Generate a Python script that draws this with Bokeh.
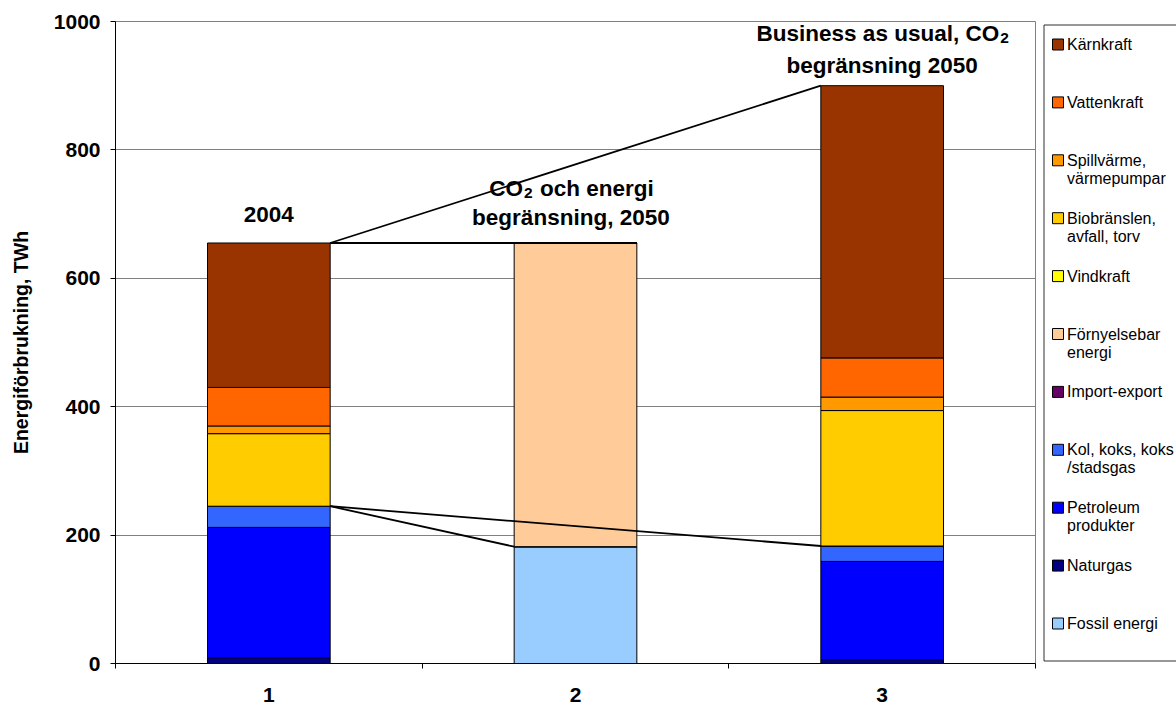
from bokeh.plotting import figure
from bokeh.layouts import row
from bokeh.models import Range1d, FixedTicker, ColumnDataSource
from bokeh.core.properties import value
from bokeh.embed import file_html
from bokeh.resources import INLINE
import numpy as np

FONT = "Liberation Sans"

# ---------------- data ----------------
categories = [1, 2, 3]
category_labels = ["1", "2", "3"]
fossil_energi = [0, 182, 0]
naturgas = [9, 0, 6]
petroleum = [203, 0, 153]
kol = [33, 0, 24]
import_export = [0, 0, 0]
fornyelsebar = [0, 473, 0]
vindkraft = [0, 0, 0]
biobranslen = [113, 0, 211]
spillvarme = [12, 0, 21]
vattenkraft = [60, 0, 61]
karnkraft = [225, 0, 424]

stack_keys = ["fossil", "naturgas", "petroleum", "kol", "import", "fornyelsebar",
              "vind", "bio", "spill", "vatten", "karn"]
stack_labels = ["Fossil energi", "Naturgas", "Petroleum\nprodukter", "Kol, koks, koks\n/stadsgas",
                "Import-export", "Förnyelsebar\nenergi", "Vindkraft", "Biobränslen,\navfall, torv",
                "Spillvärme,\nvärmepumpar", "Vattenkraft", "Kärnkraft"]
stack_colors = ["#99CCFF", "#000080", "#0000FF", "#3366FF", "#660066", "#FFCC99",
                "#FFFF00", "#FFCC00", "#FF9900", "#FF6600", "#993300"]
y_ticks = [0, 200, 400, 600, 800, 1000]

bar_width = 0.4

source = ColumnDataSource({
    "x": categories, "fossil": fossil_energi, "naturgas": naturgas, "petroleum": petroleum,
    "kol": kol, "import": import_export, "fornyelsebar": fornyelsebar, "vind": vindkraft,
    "bio": biobranslen, "spill": spillvarme, "vatten": vattenkraft, "karn": karnkraft})

# ---------------- main figure ----------------
p = figure(width=1040, height=706, x_range=Range1d(0.5, 3.5), y_range=Range1d(0, 1000),
           output_backend="svg", toolbar_location=None,
           min_border_left=115, min_border_right=5, min_border_top=21, min_border_bottom=43)
p.background_fill_color = "white"
p.border_fill_color = "white"
p.outline_line_color = "#808080"
p.outline_line_width = 1

p.vbar_stack(stack_keys, x="x", width=bar_width, source=source,
             fill_color=stack_colors, line_color="black", line_width=1)

# connecting lines
arr = {k: np.array(source.data[k], dtype=float) for k in stack_keys}
total = sum(arr[k] for k in stack_keys)
fossil_top = arr["fossil"] + arr["naturgas"] + arr["petroleum"] + arr["kol"] + arr["import"]
cx = np.array(categories, dtype=float)
hw = bar_width / 2
x0 = [cx[0] + hw] * 4
x1 = [cx[1] - hw, cx[2] - hw, cx[1] - hw, cx[2] - hw]
y0 = [total[0], total[0], fossil_top[0], fossil_top[0]]
y1 = [total[1], total[2], fossil_top[1], fossil_top[2]]
p.segment(x0=x0, y0=y0, x1=x1, y1=y1, line_color="black", line_width=1.8)

# axes
p.xgrid.visible = False
p.ygrid.ticker = FixedTicker(ticks=y_ticks)
p.ygrid.grid_line_color = "#808080"
p.ygrid.grid_line_width = 1

ya = p.yaxis[0]
ya.ticker = FixedTicker(ticks=y_ticks)
ya.axis_line_color = "black"
ya.major_tick_line_color = "black"
ya.major_tick_out = 5
ya.major_tick_in = 0
ya.minor_tick_line_color = None
ya.major_label_text_font = FONT
ya.major_label_text_font_size = "21px"
ya.major_label_text_font_style = "bold"
ya.major_label_text_color = "black"
ya.major_label_standoff = 10
ya.axis_label = "Energiförbrukning, TWh"
ya.axis_label_text_font = FONT
ya.axis_label_text_font_size = "19.5px"
ya.axis_label_text_font_style = "bold"
ya.axis_label_text_color = "black"
ya.axis_label_standoff = 19

xa = p.xaxis[0]
xa.ticker = FixedTicker(ticks=categories, minor_ticks=[0.5, 1.5, 2.5, 3.5])
xa.axis_line_color = "black"
xa.major_tick_out = 0
xa.major_tick_in = 0
xa.minor_tick_out = 5
xa.minor_tick_in = 0
xa.minor_tick_line_color = "black"
xa.major_label_overrides = {c: lab for c, lab in zip(categories, category_labels)}
xa.major_label_text_font = FONT
xa.major_label_text_font_size = "21px"
xa.major_label_text_font_style = "bold"
xa.major_label_text_color = "black"
xa.major_label_standoff = 19

# annotations
ann_kw = dict(text_font=value(FONT), text_font_size="22.5px", text_font_style="bold",
              text_color="black", text_baseline="alphabetic")
sub_kw = dict(text_font=value(FONT), text_font_size="15.5px", text_font_style="bold",
              text_color="black", text_baseline="alphabetic")
p.text(x=[1.0], y=[700], text=["2004"], text_align="center", **ann_kw)
p.text(x=[1.985], y=[740], text=["CO"], text_align="right", x_offset=-48, **ann_kw)
p.text(x=[1.985], y=[740], text=["2"], text_align="left", x_offset=-47, y_offset=5, **sub_kw)
p.text(x=[1.985], y=[740], text=["och energi"], text_align="left", x_offset=-31, **ann_kw)
p.text(x=[1.985], y=[694.7], text=["begränsning, 2050"], text_align="center", **ann_kw)
p.text(x=[3.0], y=[981.8], text=["Business as usual, CO"], text_align="right", x_offset=117, **ann_kw)
p.text(x=[3.0], y=[981.8], text=["2"], text_align="left", x_offset=118, y_offset=5, **sub_kw)
p.text(x=[3.0], y=[932], text=["begränsning 2050"], text_align="center", **ann_kw)

# ---------------- legend figure ----------------
leg = figure(width=136, height=706, x_range=Range1d(1040, 1176), y_range=Range1d(663, 21),
             output_backend="svg", toolbar_location=None, x_axis_type=None, y_axis_type=None,
             min_border_left=0, min_border_right=0, min_border_top=21, min_border_bottom=43)
leg.grid.visible = False
leg.outline_line_color = None
leg.background_fill_color = "white"
leg.border_fill_color = "white"

leg.quad(left=[1043.5], right=[1200], top=[24.5], bottom=[660.5], fill_color=None,
         line_color="#303030", line_width=1)

labels_rev = stack_labels[::-1]
colors_rev = stack_colors[::-1]
ys = 44 + 57.9 * np.arange(len(labels_rev))
line1 = [s.split("\n")[0] for s in labels_rev]
line2 = [s.split("\n")[1] if "\n" in s else "" for s in labels_rev]
leg.rect(x=[1057.5] * len(ys), y=ys, width=11, height=11, fill_color=colors_rev,
         line_color="black", line_width=1)
leg_kw = dict(text_font=value(FONT), text_font_size="16px", text_color="black",
              text_baseline="middle", text_align="left")
leg.text(x=[1066.5] * len(ys), y=ys, text=line1, **leg_kw)
two = [i for i, s in enumerate(line2) if s]
leg.text(x=[1066.5] * len(two), y=[ys[i] + 18 for i in two], text=[line2[i] for i in two], **leg_kw)

layout = row(p, leg, spacing=0)
open("out.html", "w").write(file_html(layout, INLINE))
